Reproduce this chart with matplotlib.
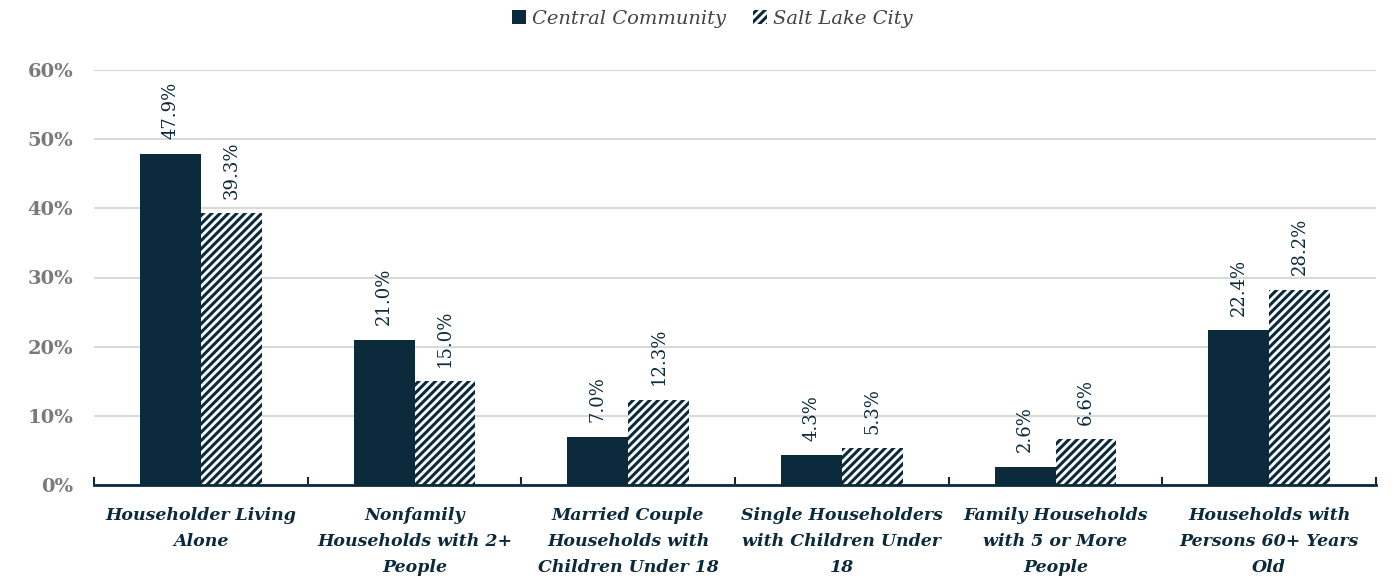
import matplotlib
matplotlib.use("Agg")
import matplotlib.pyplot as plt
import numpy as np

categories = ["Householder Living\nAlone", "Nonfamily\nHouseholds with 2+\nPeople",
              "Married Couple\nHouseholds with\nChildren Under 18",
              "Single Householders\nwith Children Under\n18",
              "Family Households\nwith 5 or More\nPeople",
              "Households with\nPersons 60+ Years\nOld"]
central = [47.9, 21.0, 7.0, 4.3, 2.6, 22.4]
slc = [39.3, 15.0, 12.3, 5.3, 6.6, 28.2]
series_names = ["Central Community", "Salt Lake City"]
yticks = [0, 10, 20, 30, 40, 50, 60]

navy = "#0b2a3b"
plt.rcParams['font.family'] = ['DejaVu Serif']
plt.rcParams['hatch.linewidth'] = 2.2
plt.rcParams['hatch.color'] = navy

fig = plt.figure(figsize=(13.94, 5.85), dpi=100)
ax = fig.add_axes([94/1394, 1-485/585, (1376-94)/1394, (485-70)/585])

x = np.arange(len(categories))
w = 0.285
b1 = ax.bar(x - w/2, central, w, color=navy, label=series_names[0], zorder=3)
b2 = ax.bar(x + w/2, slc, w, color="white", edgecolor=navy, hatch="////", linewidth=0,
            label=series_names[1], zorder=3)

for xi, v in zip(x - w/2, central):
    ax.text(xi, v + 2.1, f"{v:.1f}%", rotation=90, ha="center", va="bottom",
            color=navy, fontsize=13)
for xi, v in zip(x + w/2, slc):
    ax.text(xi, v + 2.1, f"{v:.1f}%", rotation=90, ha="center", va="bottom",
            color=navy, fontsize=13)

ax.set_xlim(-0.5, len(categories) - 0.5)
ax.set_ylim(0, 60)
ax.set_yticks(yticks)
ax.set_yticklabels([f"{t}%" for t in yticks], color="#7a7a7a", fontsize=14, fontweight="bold")
ax.yaxis.grid(True, color="#d9d9d9", linewidth=1.5, zorder=0)
ax.tick_params(axis="y", length=0, pad=15)

ax.set_xticks(x)
ax.set_xticklabels(categories, fontsize=12.5, fontweight="bold", fontstyle="italic",
                   color=navy, linespacing=1.7)
ax.tick_params(axis="x", length=0, pad=16)
ax.set_xticks(np.arange(-0.5, len(categories), 1.0), minor=True)
ax.tick_params(axis="x", which="minor", length=6, direction="in", color=navy, width=1.5)

for s in ["top", "right", "left"]:
    ax.spines[s].set_visible(False)
ax.spines["bottom"].set_color(navy)
ax.spines["bottom"].set_linewidth(2)
ax.spines["bottom"].set_zorder(4)

leg = fig.legend(handles=[b1, b2], labels=series_names, loc="upper center",
                 bbox_to_anchor=(0.511, 1.013), ncol=2, frameon=False,
                 prop={"style": "italic", "size": 14}, handlelength=0.7, handleheight=0.7,
                 columnspacing=1.4, handletextpad=0.3)
for t in leg.get_texts():
    t.set_color("#444444")

fig.savefig("out.png", dpi=100)
